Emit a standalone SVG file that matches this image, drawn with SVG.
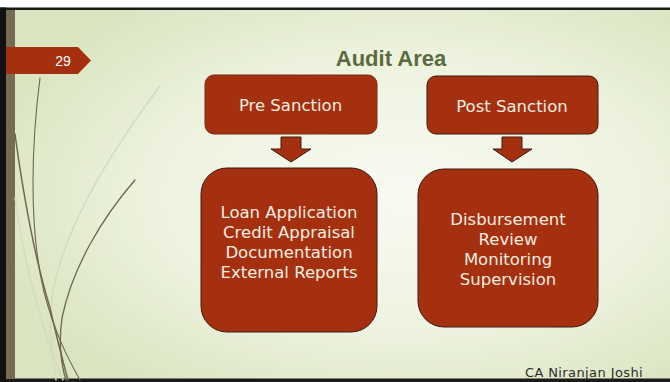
<svg xmlns="http://www.w3.org/2000/svg" width="670" height="382" viewBox="0 0 670 382">
  <defs>
    <radialGradient id="bg" cx="0.6" cy="0.5" r="0.65">
      <stop offset="0" stop-color="#f8faf1"/>
      <stop offset="0.55" stop-color="#eef3e0"/>
      <stop offset="1" stop-color="#dae4c0"/>
    </radialGradient>
    <style>
      .box { fill: #a5300f; stroke: #3a1c10; stroke-width: 1; }
      .boxtext { font-family: "DejaVu Sans", Verdana, sans-serif; font-size: 16.5px; fill: #f6eee0; text-anchor: middle; }
      .arrow { fill: #a5300f; stroke: #3a1c10; stroke-width: 1; stroke-linejoin: miter; }
      .stem { fill: none; stroke: #6f6650; stroke-linecap: round; }
      .faint { fill: none; stroke: #d2dbbf; stroke-linecap: round; }
    </style>
  </defs>

  <!-- page frame and background -->
  <rect x="0" y="0" width="670" height="382" fill="#ffffff"/>
  <rect x="0" y="9" width="670" height="371" fill="url(#bg)"/>
  <rect x="0" y="7.5" width="670" height="2.5" fill="#1a1a1a"/>
  <rect x="0" y="378.5" width="670" height="3.5" fill="#1a1a1a"/>
  <rect x="0" y="7.5" width="6" height="374" fill="#111111"/>
  <rect x="6" y="10" width="9" height="369" fill="#766c53"/>

  <!-- grass-like decorative strokes -->
  <g id="decor">
    <path class="faint" stroke-width="1.4" d="M160,86 C112,150 62,228 52,298 C48,335 54,362 56,380"/>
    <path class="faint" stroke-width="1.4" d="M15,198 C24,265 42,330 63,380"/>
    <path class="stem" stroke-width="1.1" d="M40,78 C32,140 28,225 44,292 C55,335 70,362 80,380"/>
    <path class="stem" stroke-width="1.5" d="M15,134 C24,200 36,262 50,308 C57,338 63,362 68,380"/>
    <path class="stem" stroke-width="1.3" d="M135,180 C102,218 72,268 62,318 C58,345 62,368 66,380"/>
  </g>

  <!-- slide number tab -->
  <g id="slide-number">
    <polygon points="6,47 78,47 91,60.5 78,74 6,74" fill="#a5300f"/>
    <text x="63" y="66" font-family="'Liberation Sans', Arial, sans-serif" font-size="14" fill="#ffffff" text-anchor="middle">29</text>
  </g>

  <!-- title -->
  <g id="title">
    <text x="391" y="66" font-family="'Liberation Sans', Arial, sans-serif" font-size="22" font-weight="bold" fill="#5b6b3f" text-anchor="middle">Audit Area</text>
  </g>

  <!-- connectors -->
  <g id="connectors">
    <polygon class="arrow" points="281,137 301,137 301,149 311,149 291,162 271,149 281,149"/>
    <polygon class="arrow" points="502,137 522,137 522,149 532,149 512,162 493,149 502,149"/>
  </g>

  <!-- nodes -->
  <g id="pre-sanction">
    <rect class="box" x="205" y="75" width="172" height="59" rx="9" ry="9" style="stroke:#7a2a12"/>
    <text class="boxtext" x="290.5" y="111">Pre Sanction</text>
  </g>

  <g id="post-sanction">
    <rect class="box" x="427" y="76" width="171" height="58" rx="9" ry="9"/>
    <text class="boxtext" x="512" y="112">Post Sanction</text>
  </g>

  <g id="pre-sanction-areas">
    <rect class="box" x="201" y="168" width="176" height="164" rx="26" ry="26"/>
    <text class="boxtext" x="289" y="218">Loan Application</text>
    <text class="boxtext" x="289" y="238">Credit Appraisal</text>
    <text class="boxtext" x="289" y="258">Documentation</text>
    <text class="boxtext" x="289" y="278">External Reports</text>
  </g>

  <g id="post-sanction-areas">
    <rect class="box" x="418" y="169" width="180" height="158" rx="26" ry="26"/>
    <text class="boxtext" x="508" y="225">Disbursement</text>
    <text class="boxtext" x="508" y="245">Review</text>
    <text class="boxtext" x="508" y="265">Monitoring</text>
    <text class="boxtext" x="508" y="285">Supervision</text>
  </g>

  <!-- footer -->
  <g id="footer">
    <text x="584" y="377" font-family="'DejaVu Sans', sans-serif" font-size="13" letter-spacing="0.4" fill="#2e2e2e" text-anchor="middle">CA Niranjan Joshi</text>
  </g>
</svg>
